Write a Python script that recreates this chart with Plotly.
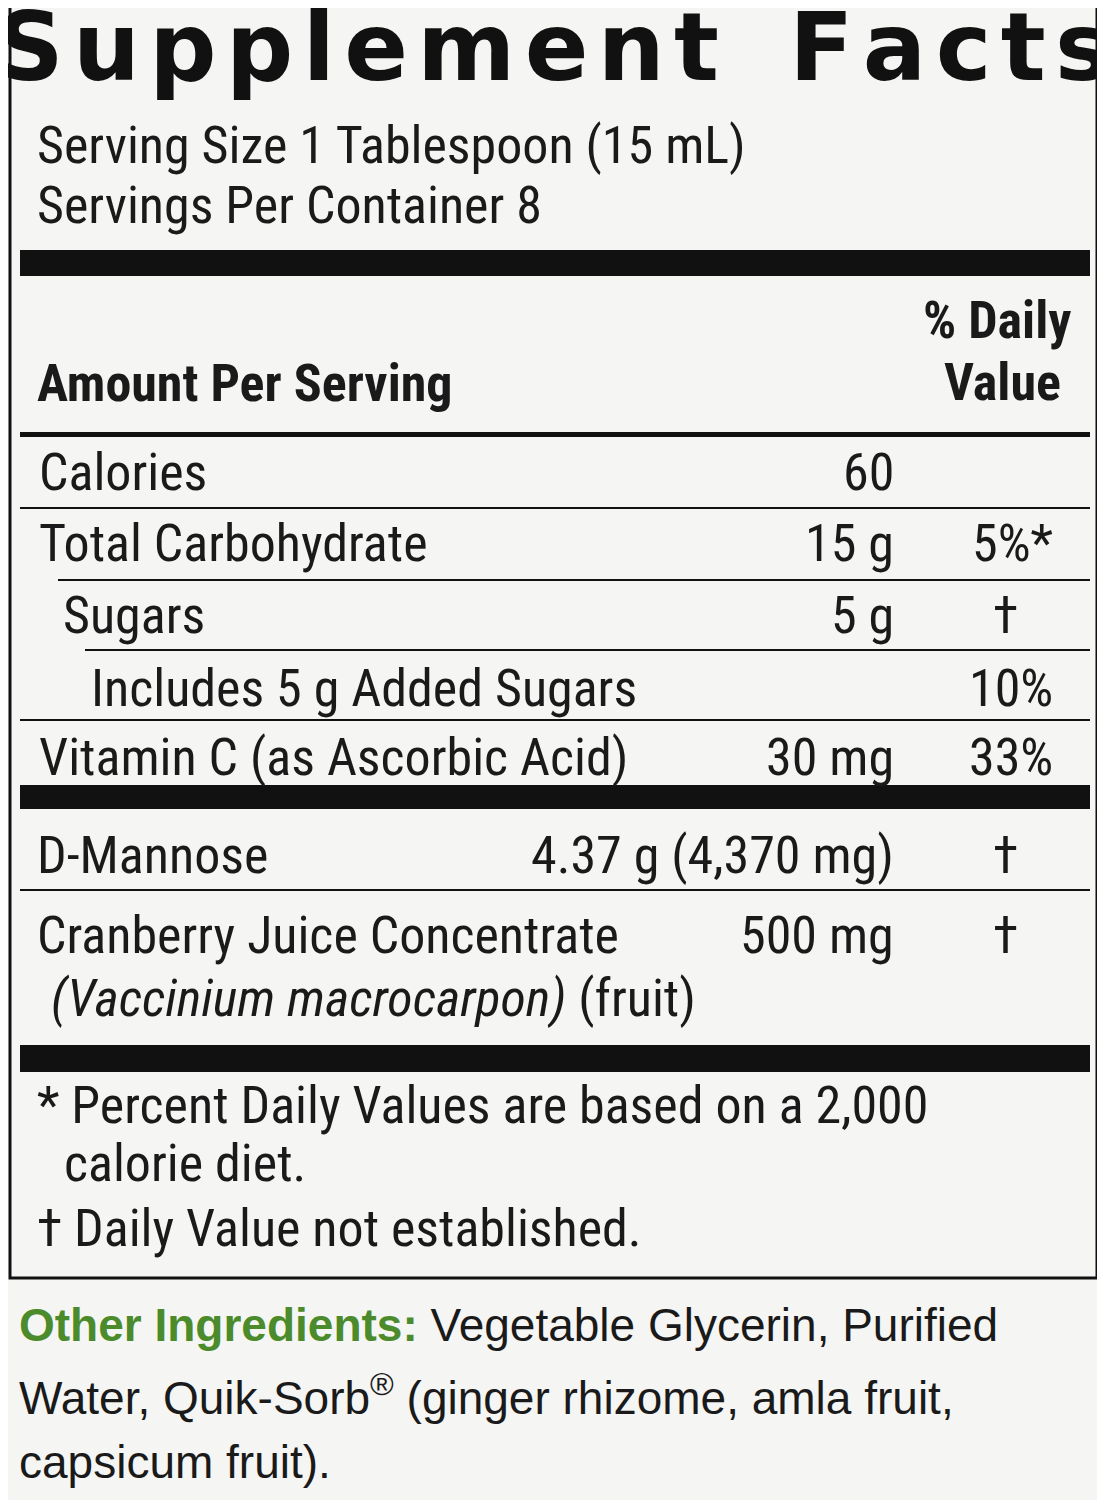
import plotly.graph_objects as go

W, H = 1105, 1500
title = "Supplement Facts"
serving_lines = ["Serving Size 1 Tablespoon (15 mL)", "Servings Per Container 8"]
nutrients = ["Calories", "Total Carbohydrate", "Sugars", "Includes 5 g Added Sugars", "Vitamin C (as Ascorbic Acid)"]
amounts = ["60", "15 g", "5 g", "", "30 mg"]
daily_values = ["", "5%*", "†", "10%", "33%"]
indents = [38, 38, 62, 90, 38]
others = ["D-Mannose", "Cranberry Juice Concentrate"]
other_amounts = ["4.37 g (4,370 mg)", "500 mg"]
other_dv = ["†", "†"]
footnotes = ["* Percent Daily Values are based on a 2,000", "  calorie diet.", "† Daily Value not established."]
ingredients = ["<b><span style='color:#4b8b2b'>Other Ingredients:</span></b> Vegetable Glycerin, Purified",
               "Water, Quik-Sorb<sup>®</sup> (ginger rhizome, amla fruit,",
               "capsicum fruit)."]

NARROW = "Liberation Sans Narrow, Roboto Condensed, Arial Narrow, sans-serif"
OFF = 8  # page body margin
fig = go.Figure()
fig.update_xaxes(range=[OFF, W + OFF], visible=False, fixedrange=True)
fig.update_yaxes(range=[H + OFF, OFF], visible=False, fixedrange=True)
ann, shp = [], []

def txt(x, y, t, size=52, anchor="left", color="#1a1a1a", family=NARROW):
    ann.append(dict(x=x, y=y, xref="x", yref="y", text=t, showarrow=False, xanchor=anchor,
                    yanchor="middle", borderpad=0,
                    font=dict(size=size, color=color, family=family)))

def bar(y0, y1, x0=20, x1=1090):
    shp.append(dict(type="rect", x0=x0, x1=x1, y0=y0, y1=y1, fillcolor="#111", line_width=0))

shp.append(dict(type="rect", x0=10, x1=1097, y0=0, y1=1278, line=dict(color="#111", width=3)))

spaced = "\u200a".join(title).replace("\u200a \u200a", "\u2009 \u2009")
txt(553, 47, "<b>" + spaced + "</b>", size=94, anchor="center", color="#111", family="DejaVu Sans, sans-serif")
txt(36, 145, serving_lines[0])
txt(36, 205, serving_lines[1])
bar(250, 276)
txt(1072, 320, "<b>% Daily</b>", anchor="right")
txt(1062, 382, "<b>Value</b>", anchor="right")
txt(36, 383, "<b>Amount Per Serving</b>")
bar(432, 437)

ys = [472, 543, 615, 688, 757]
line_after = [(20, 508), (58, 580), (85, 650), (20, 720)]
for i, n in enumerate(nutrients):
    txt(indents[i], ys[i], n)
    if amounts[i]:
        txt(895, ys[i], amounts[i], anchor="right")
    if daily_values[i]:
        if daily_values[i] == "†":
            txt(1005, ys[i], daily_values[i], anchor="center")
        else:
            txt(1054, ys[i], daily_values[i], anchor="right")
for x0, y in line_after:
    bar(y - 1, y + 1, x0=x0)
bar(785, 809)

oys = [855, 935]
for i, n in enumerate(others):
    txt(36, oys[i], n)
    txt(895, oys[i], other_amounts[i], anchor="right")
    txt(1005, oys[i], other_dv[i], anchor="center")
bar(889, 891)
txt(50, 998, "<i>(Vaccinium macrocarpon)</i> (fruit)")
bar(1045, 1072)

fys = [1105, 1163, 1228]
fxs = [36, 63, 36]
for i, f in enumerate(footnotes):
    txt(fxs[i], fys[i], f.strip())

iys = [1325, 1395, 1462]
for i, t in enumerate(ingredients):
    txt(18, iys[i], t, size=46, family="Liberation Sans, Arial, sans-serif")

fig.update_layout(width=W, height=H, margin=dict(l=0, r=0, t=0, b=0),
                  paper_bgcolor="#f5f5f3", plot_bgcolor="#f5f5f3",
                  annotations=ann, shapes=shp, showlegend=False)
fig.write_html("out.html")
